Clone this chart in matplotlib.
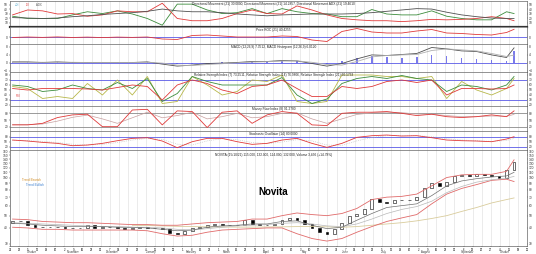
import numpy as np
import pandas as pd
import matplotlib
matplotlib.use("Agg")
import matplotlib.pyplot as plt
import matplotlib.dates as mdates
from matplotlib.ticker import NullFormatter, NullLocator, FixedFormatter

plt.rcParams['font.family'] = ['Liberation Sans', 'DejaVu Sans']

# ---- price (weekly-ish candles) ----
closes = [45, 45, 42, 41, 41, 41, 40.5, 40, 40, 40,
          42, 40, 40.5, 41, 40, 39.5, 40, 40.5, 40, 40,
          39, 36.5, 36, 38, 40, 41, 42, 43, 42, 42.5,
          42, 46, 43, 42.5, 42.5, 43, 46, 48, 46, 43,
          40, 37, 36, 39, 44, 50, 52, 56, 68, 64,
          63, 66, 67, 66, 70, 83, 90, 86, 92, 102,
          104, 103, 106, 105, 102, 100, 115, 132]
first_open = 44

# indicator samples (every second candle + last)
bb_upper = [47, 46.5, 45, 44.5, 44, 44, 43.5, 43, 42.5, 42.5, 42, 42, 43, 44, 44.5, 45, 47, 47,
            50, 52.5, 51, 50, 52, 57, 67, 70, 71, 74, 86, 100, 105, 106, 106, 112, 138]
bb_lower = [40.5, 40, 39, 39, 38.5, 38.5, 38.5, 38.5, 38.5, 38, 36, 34.5, 35, 37, 38.5, 39, 39.5, 40,
            40, 36, 33, 31.5, 33, 37, 41, 45, 48, 51, 62, 74, 82, 88, 95, 97, 93]
ma_fast = [43.5, 43, 42, 41.5, 41, 41, 41, 40.5, 40.5, 40, 39, 38, 38.5, 40.5, 41.5, 42, 43, 43,
           45, 45.5, 42, 39.5, 40.5, 46, 52, 58, 60, 62, 72, 86, 94, 98, 101, 103, 110]
ma_slow = [44, 43.5, 43, 42.5, 42, 41.5, 41, 41, 40.5, 40.5, 40, 39, 38.5, 39.5, 40.5, 41.5, 42, 42.5,
           43.5, 44, 43, 41.5, 41, 43, 47, 52, 56, 59, 65, 76, 85, 92, 96, 99, 102]
ma_long = [np.nan] * 8 + [42, 41.8, 41.5, 41.2, 41, 40.8, 40.7, 40.6, 40.6, 40.7, 40.8, 41, 41, 40.8,
                          40.5, 41, 42, 43, 44, 45.5, 47.5, 50, 54, 58, 63, 67, 69]

plus_di = [24, 19, 19, 19, 27, 34, 30, 36, 29, 19, 4, 51, 51, 38, 30, 32, 41, 30, 41, 34,
           30, 29, 23, 23, 39, 29, 27, 27, 36, 24, 19, 16, 16, 34, 30]
minus_di = [27, 38, 36, 29, 30, 24, 27, 36, 34, 34, 53, 19, 14, 14, 19, 30, 38, 30, 29, 47,
            38, 27, 19, 16, 14, 14, 12, 14, 17, 16, 17, 19, 23, 19, 14]
adx = [21, 20, 19, 20, 23, 25, 28, 30, 32, 35, 40, 36, 34, 34, 32, 29, 27, 25, 27, 28,
       29, 29, 29, 30, 32, 35, 38, 41, 40, 33, 27, 23, 20, 19, 19]

roc = [-1, 1.5, -0.5, 2, -1, 1, -1.5, 1, -0.5, 1.5, -8.5, -11, 9, 11.5, 6.5, 1.5, 1.5, 1.5,
       6.5, 4, -13.5, -21, 29, 44, 26.5, 21.5, 21.5, 31.5, 39, 21.5, 19, 14, 11.5, 24, 40]

macd = [0.4, 0.4, 0.1, 0.4, 0.1, 0.1, 0.1, 0.1, 0.1, 0.4, -0.7, -1.7, -1.2, -0.4, -0.2, 0.1, 0.6, 0.6,
        1.1, 0.9, -0.4, -1.7, -0.4, 1.9, 3.9, 3.6, 4.1, 4.6, 7.6, 6.9, 5.9, 5.6, 3.9, 2.6, 7.4]
macd_sig = [0.1, 0.2, 0.2, 0.2, 0.2, 0.1, 0.1, 0.1, 0.1, 0.2, -0.2, -1.2, -1.4, -0.9, -0.5, -0.1, 0.3, 0.5,
            0.8, 0.9, 0.2, -0.9, -1.2, 0.6, 2.9, 3.6, 3.9, 4.1, 6.1, 6.9, 6.4, 5.9, 4.6, 3.1, 3.8]
macd_hist = [0.3, 0.3, 0.2, 0.3, 0.2, 0.2, 0.2, 0.2, 0.2, 0.3, -0.4, -0.8, -0.6, -0.2, 0.2, 0.3, 0.5, 0.6,
             0.8, 0.6, -0.3, -0.8, 0.8, 2.2, 3.2, 2.8, 2.5, 3.0, 3.8, 3.2, 2.2, 1.8, 1.2, 0.8, 6.0]

rsi7 = [57, 53, 33, 37, 33, 63, 40, 70, 40, 77, 23, 27, 77, 60, 40, 47, 70, 67, 80, 27,
        23, 27, 80, 80, 80, 77, 77, 73, 77, 33, 67, 50, 40, 53, 73]
rsi14 = [60, 57, 47, 50, 60, 53, 50, 65, 53, 73, 27, 43, 77, 67, 60, 60, 60, 60, 75, 40,
         23, 32, 63, 73, 77, 73, 79, 73, 70, 47, 60, 57, 50, 60, 77]
rsi21 = [53, 50, 53, 53, 53, 52, 50, 55, 60, 57, 30, 60, 70, 63, 50, 43, 57, 60, 70, 53,
         37, 37, 57, 53, 57, 67, 70, 65, 70, 40, 53, 53, 52, 53, 60]

mfi = [28, 28, 35, 61, 73, 76, 20, 20, 95, 98, 28, 91, 88, 16, 85, 91, 35, 73, 88, 80,
       28, 25, 80, 85, 85, 88, 80, 70, 76, 65, 61, 65, 73, 65, 91]
mfi_sig = [30, 29, 32, 45, 62, 72, 55, 35, 60, 85, 60, 70, 85, 55, 65, 80, 60, 65, 80, 82,
           55, 35, 55, 75, 82, 85, 83, 77, 76, 70, 65, 65, 68, 67, 75]

stoch_k = [60, 54, 46, 40, 26, 30, 40, 56, 70, 74, 54, 14, 50, 70, 70, 50, 34, 40, 60, 70,
           40, 16, 40, 76, 86, 90, 84, 86, 74, 60, 56, 54, 50, 66, 80]
stoch_d = [58, 57, 52, 45, 35, 30, 34, 45, 60, 70, 64, 35, 30, 55, 68, 62, 45, 38, 48, 62,
           55, 30, 28, 55, 75, 86, 88, 86, 80, 68, 60, 56, 52, 57, 70]

price_ticks = [30, 40, 50, 60, 70, 80, 90, 100, 110, 120, 130, 140, 150, 160]

titles = [
    "Directional Movement (21) 30.0000, Directional Movement (21) 14.2857, Directional Movement ADX (21) 19.4610",
    "Price ROC (21) 40.4255",
    "MACD (12,26,9) 7.3512, MACD Histogram (12,26,9) 6.0120",
    "Relative Strength Index (7) 73.2511, Relative Strength Index (14) 76.9806, Relative Strength Index (21) 60.1733",
    "Money Flow Index (8) 91.2780",
    "Stochastic Oscillator (14) 80.0000",
    "NOVITA (15/10/21) 115.000, 132.000, 114.000, 132.000, Volume 3,456 (+14.78%)",
]

# ---- dates ----
candle_dates = pd.date_range("2020-09-23", "2021-10-15", periods=len(closes))
ind_idx = list(range(0, len(closes), 2)) + [len(closes) - 1]
ind_dates = candle_dates[ind_idx]
x0, x1 = pd.Timestamp("2020-09-21"), pd.Timestamp("2021-10-25")

W, H = 536, 254
fig = plt.figure(figsize=(W / 100, H / 100), dpi=100)
fig.patch.set_facecolor('white')


def panel(top, bottom):
    return fig.add_axes([10 / W, 1 - bottom / H, 517 / W, (bottom - top) / H])


def style(ax, ylim, yticks, title):
    ax.set_xlim(x0, x1)
    ax.set_ylim(*ylim)
    ax.xaxis.set_major_locator(mdates.WeekdayLocator(byweekday=mdates.MO))
    ax.grid(axis='x', color='#dcdcdc', lw=0.4)
    ax.set_axisbelow(True)
    ax.set_yticks(yticks)
    ax.tick_params(axis='y', labelsize=2.3, length=1, width=0.3, pad=0.5,
                   left=True, right=True, labelleft=True, labelright=True, colors='#333333')
    ax.tick_params(axis='x', length=0, labelbottom=False)
    for s in ax.spines.values():
        s.set_color('#666666')
        s.set_linewidth(0.5)
    ax.text(0.51, 0.97, title, transform=ax.transAxes, ha='center', va='top',
            fontsize=2.3, color='#222222')


blue = '#5a5ae6'
red = '#e03a3a'
green = '#3c8c3c'
dark = '#505050'

# Directional movement
ax1 = panel(1, 27)
style(ax1, (0, 58), [10, 20, 30, 40, 50], titles[0])
ax1.plot(ind_dates, plus_di, color=green, lw=0.6)
ax1.plot(ind_dates, minus_di, color=red, lw=0.6)
ax1.plot(ind_dates, adx, color=dark, lw=0.6)
ax1.spines['bottom'].set_linewidth(1.6)
ax1.spines['bottom'].set_color('#333333')
for xi, lab, c in [(0.01, '+DI', '#4aa3c8'), (0.03, '-DI', red), (0.05, 'ADX', dark)]:
    ax1.text(xi, 0.85, lab, transform=ax1.transAxes, fontsize=2, color=c, va='center')

# Price ROC
ax2 = panel(27, 44)
style(ax2, (-33.5, 51.5), [0], titles[1])
ax2.axhline(0, color=blue, lw=0.6)
ax2.plot(ind_dates, roc, color=red, lw=0.6)

# MACD
ax3 = panel(44, 72)
style(ax3, (-4.65, 9.35), [-4, 0, 4, 8], titles[2])
ax3.bar(ind_dates, macd_hist, width=1.2, color=blue, alpha=0.8)
ax3.axhline(0, color=blue, lw=0.6)
ax3.plot(ind_dates, macd, color=dark, lw=0.6)
ax3.plot(ind_dates, macd_sig, color='#b0b0b0', lw=0.6)

# RSI
ax4 = panel(72, 106)
style(ax4, (18, 86), list(range(20, 90, 10)), titles[3])
ax4.axhline(70, color=blue, lw=0.6)
ax4.axhline(30, color=blue, lw=0.6)
ax4.plot(ind_dates, rsi7, color='#b8b84a', lw=0.6)
ax4.plot(ind_dates, rsi14, color=green, lw=0.6)
ax4.plot(ind_dates, rsi21, color=red, lw=0.6)
ax4.text(0.012, 0.26, 'RSI', transform=ax4.transAxes, fontsize=2, color=red)

# Money flow
ax5 = panel(106, 131)
style(ax5, (0.5, 113), [20, 50, 80], titles[4])
ax5.axhline(80, color='#8a8a8a', lw=0.6)
ax5.axhline(20, color='#8a8a8a', lw=0.6)
ax5.plot(ind_dates, mfi_sig, color='#c8a0a0', lw=0.5)
ax5.plot(ind_dates, mfi, color=red, lw=0.6)

# Stochastic
ax6 = panel(131, 150)
style(ax6, (0.2, 114.2), [20, 50, 80], titles[5])
ax6.axhline(80, color=blue, lw=0.6)
ax6.axhline(20, color=blue, lw=0.6)
ax6.plot(ind_dates, stoch_d, color='#bbbbbb', lw=0.5, ls=':')
ax6.plot(ind_dates, stoch_k, color=red, lw=0.6)

# Price
ax7 = panel(150, 246)
ax7.set_yscale('log')
style(ax7, (28.8, 165), price_ticks, titles[6])
ax7.yaxis.set_minor_locator(NullLocator())
ax7.yaxis.set_minor_formatter(NullFormatter())
ax7.yaxis.set_major_formatter(FixedFormatter([str(t) for t in price_ticks]))
ax7.plot(ind_dates, ma_long, color='#d9cc9c', lw=0.6)
ax7.plot(ind_dates, bb_upper, color='#e06a6a', lw=0.6)
ax7.plot(ind_dates, bb_lower, color='#e06a6a', lw=0.6)
ax7.plot(ind_dates, ma_slow, color='#b8b8b8', lw=0.5)
ax7.plot(ind_dates, ma_fast, color='#707070', lw=0.5)

opens = np.r_[first_open, closes[:-1]]
cl = np.array(closes, dtype=float)
up = cl >= opens
lo = np.minimum(opens, cl)
hi = np.maximum(opens, cl)
ax7.bar(candle_dates[up], (hi - lo)[up], bottom=lo[up], width=2.2,
        color='white', edgecolor='black', lw=0.4)
ax7.bar(candle_dates[~up], (hi - lo)[~up], bottom=lo[~up], width=2.2,
        color='black', edgecolor='black', lw=0.4)

ax7.text(0.51, 0.566, 'Novita', transform=ax7.transAxes, ha='center', va='center',
         fontsize=7, fontweight='bold', color='black')
ax7.text(0.024, 0.68, 'Trend Bearish', transform=ax7.transAxes, fontsize=2.2, color='#d08a20')
ax7.text(0.03, 0.63, 'Trend Bullish', transform=ax7.transAxes, fontsize=2.2, color='#3a7fd0')

# bottom date labels: day numbers weekly, month names below
ax7.tick_params(axis='x', labelbottom=True, labelsize=2, length=1, width=0.3, pad=0.2)
ax7.xaxis.set_major_formatter(mdates.DateFormatter('%-d'))
for m in pd.date_range("2020-10-01", "2021-10-01", freq="MS"):
    ax7.text(m + pd.Timedelta(days=3), -0.044, m.strftime('%B'), transform=ax7.get_xaxis_transform(),
             fontsize=2, ha='left', va='top', color='#333333')

fig.savefig('out.png', dpi=100)
